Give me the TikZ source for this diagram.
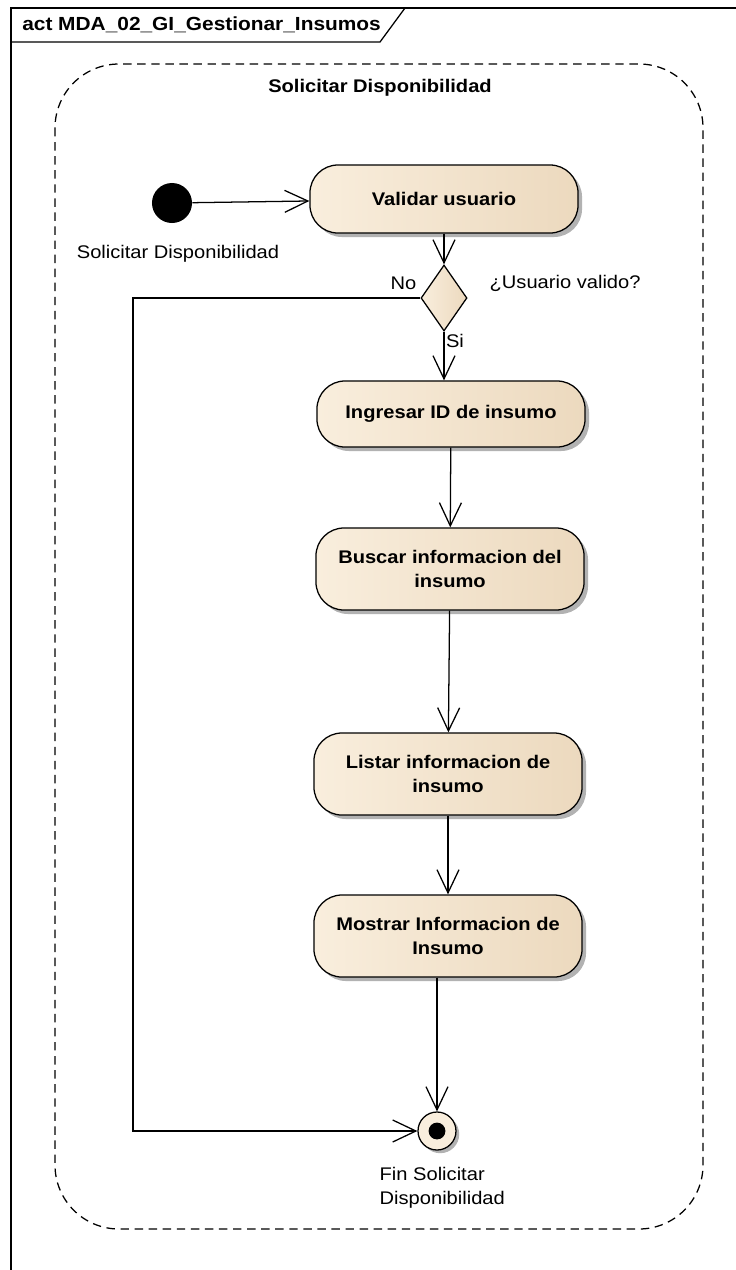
\documentclass[tikz,border=0pt]{standalone}
\usepackage{fontspec}
\setmainfont[FakeStretch=1.1]{Liberation Sans}
\usepackage{xcolor}
\usepackage{tikz}
\usetikzlibrary{positioning,arrows.meta,shapes.geometric,shadows}

\definecolor{actL}{HTML}{F9EEDD}
\definecolor{actR}{HTML}{ECD9BE}

\begin{document}
\begin{tikzpicture}[
  x=0.025cm, y=-0.025cm,
  font=\fontsize{13}{17}\selectfont,
  action/.style={draw, line width=0.9pt, rounded corners=0.7cm, left color=actL, right color=actR,
    drop shadow={shadow xshift=0.1cm, shadow yshift=-0.1cm, fill=black!30, opacity=1},
    font=\fontsize{13}{16.5}\selectfont\bfseries, minimum width=6.7cm, minimum height=1.7cm, align=center},
  decision/.style={draw, diamond, line width=0.9pt, left color=actL, right color=actR, inner sep=0pt,
    minimum width=1.15cm, minimum height=1.65cm},
  initial/.style={circle, fill=black, inner sep=0pt, minimum size=1cm},
  final/.style={circle, draw, line width=0.9pt, fill=actL, inner sep=0pt, minimum size=0.95cm,
    drop shadow={shadow xshift=0.08cm, shadow yshift=-0.08cm, fill=black!30, opacity=1}},
  lbl/.style={inner sep=1pt, align=left},
  region/.style={dashed, dash pattern=on 6pt off 4pt, line width=0.9pt, rounded corners=1.6cm},
  arrow/.style={-{Straight Barb[length=0.58cm, width=0.55cm]}, line width=0.9pt},
]
\useasboundingbox (0,0) rectangle (736,1270);

% frame
\draw[line width=1pt] (740,8) -- (11,8) -- (11,1275);
\node[anchor=north west, font=\fontsize{13.5}{16}\selectfont\bfseries, inner sep=0pt] (frame) at (22,16) {act MDA\_02\_GI\_Gestionar\_Insumos};
\draw[line width=0.9pt] (11,42) -- (380,42) -- (405,8);

% activity region
\draw[region] (55,64) rectangle (703,1229);
\node[font=\fontsize{13}{16}\selectfont\bfseries] (regtitle) at (380,88) {Solicitar Disponibilidad};

\node[initial] (init) at (172,203) {};
\node[lbl] (initlbl) at (178,254) {Solicitar Disponibilidad};
\node[action] (val) at (444,199) {Validar usuario};
\node[decision] (dec) at (444,298) {};
\node[lbl, anchor=east] (no) at (418,283) {No};
\node[lbl, anchor=west] (cond) at (488,283) {¿Usuario valido?};
\node[action, minimum height=1.65cm] (ing) at (451,414) {Ingresar ID de insumo};
\node[action, minimum height=2.05cm] (bus) at (450,569) {Buscar informacion del\\insumo};
\node[action, minimum height=2.05cm] (lis) at (448,774) {Listar informacion de\\insumo};
\node[action, minimum height=2.05cm] (mos) at (448,936) {Mostrar Informacion de\\Insumo};
\node[final] (fin) at (437,1131) {};
\fill (fin.center) circle (0.21cm);
\node[lbl, anchor=north west] (finlbl) at (378,1166) {Fin Solicitar\\Disponibilidad};
\coordinate (loop) at (133,298);

\draw[arrow] (init) -- (val);
\draw[arrow] (val) -- (dec);
\draw[arrow] (dec.south) -- (dec.south |- ing.north) node[lbl, pos=0.2, anchor=west] (si) {Si};
\draw[arrow] (dec.west) -- (loop) |- (fin.west);
\draw[arrow] (ing) -- (bus);
\draw[arrow] (bus) -- (lis);
\draw[arrow] (lis) -- (mos);
\draw[arrow] (mos.south -| fin) -- (fin);

\end{tikzpicture}
\end{document}
